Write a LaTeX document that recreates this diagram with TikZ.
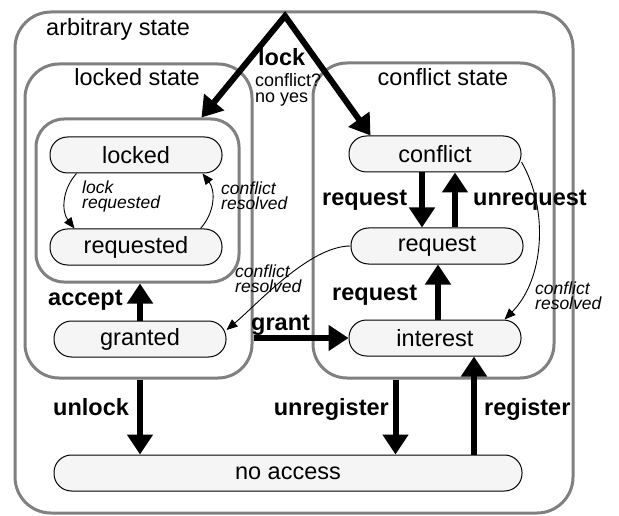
\documentclass[tikz,border=0pt]{standalone}
\usepackage{fontspec}
\setmainfont{Liberation Sans}
\usetikzlibrary{positioning, arrows.meta, calc}

\begin{document}
\begin{tikzpicture}[
  x=1pt, y=-1pt,
  >=Stealth,
  every node/.style={font=\fontsize{23.5}{26}\selectfont, inner sep=0pt},
  frame/.style={draw=gray, line width=3pt},
  statebox/.style={draw, fill=gray!8, line width=1pt, rounded corners=17.5pt, minimum width=172pt, minimum height=36pt},
  translabel/.style={font=\fontsize{23.5}{26}\selectfont\bfseries},
  condlabel/.style={font=\fontsize{17.5}{15}\selectfont\itshape, align=left},
  choicelabel/.style={font=\fontsize{18}{16}\selectfont, align=left},
  bigarrow/.style={line width=6pt, -{Triangle[length=20pt, width=25pt]}},
  smallarrow/.style={line width=0.9pt, -{Triangle[length=11pt, width=9pt]}}
]
\fill[white] (0,0) rectangle (619,516);
\useasboundingbox (0,0) rectangle (619,516);

% Frames
\node[frame, rounded corners=36pt, minimum width=558pt, minimum height=501pt] (arbitrary) at (294,262.5) {};
\node[frame, rounded corners=34pt, minimum width=227pt, minimum height=314pt] (lockedst) at (138.5,221) {};
\node[frame, rounded corners=28pt, minimum width=203pt, minimum height=163pt] (lockbox) at (137.5,200.5) {};
\node[frame, rounded corners=34pt, minimum width=241pt, minimum height=315pt] (conflictst) at (433.5,220.5) {};
\node[anchor=base west] (arbitrarylbl) at (46,36) {arbitrary state};
\node[anchor=base] (lockedlbl) at (137,86) {locked state};
\node[anchor=base] (conflictlbl) at (443,86) {conflict state};

% States
\node[statebox] (locked) at (136,155) {locked};
\node[statebox] (requested) at (136,247) {requested};
\node[statebox] (granted) at (140,339) {granted};
\node[statebox] (conflict) at (435,154) {conflict};
\node[statebox] (request) at (437,246) {request};
\node[statebox] (interest) at (435,338) {interest};
\node[statebox, minimum width=468pt] (noaccess) at (288,473) {no access};

% Lock split
\coordinate (top) at (285,16);
\draw[line width=6pt, line join=miter, {Triangle[length=20pt, width=25pt]}-{Triangle[length=20pt, width=25pt]}]
  ([xshift=-39pt]lockbox.north east) -- (top) -- ([xshift=22pt]conflict.north west);
\node[translabel, anchor=base west] (locklbl) at (258,66) {lock};
\node[choicelabel, anchor=base west] (choicelbl) at (255,103) {conflict?\\no yes};

% Thick transitions
\draw[bigarrow] ([xshift=-13pt]conflict.south) -- ([xshift=-13pt]conflict.south |- request.north);
\draw[bigarrow] ([xshift=20pt]conflict.south |- request.north) -- ([xshift=20pt]conflict.south);
\draw[bigarrow] ([xshift=3pt]interest.north) -- ([xshift=3pt]interest.north |- request.south);
\draw[bigarrow] (granted.north) -- (granted.north |- lockbox.south);
\draw[bigarrow] (lockedst.east |- interest.west) -- (interest.west);
\draw[bigarrow] (granted.south |- lockedst.south) -- (granted.south |- noaccess.north);
\draw[bigarrow] ([xshift=-38pt]conflictst.south) -- ([xshift=-38pt]conflictst.south |- noaccess.north);
\draw[bigarrow] ([xshift=39pt]interest.south |- noaccess.north) -- ([xshift=39pt]interest.south);

\node[translabel, anchor=base west] (reqlbl) at (322,205) {request};
\node[translabel, anchor=base west] (unreqlbl) at (473,205) {unrequest};
\node[translabel, anchor=base west] (reqlbl2) at (332,300) {request};
\node[translabel, anchor=base west] (acceptlbl) at (48,305) {accept};
\node[translabel, anchor=base west] (grantlbl) at (251,330) {grant};
\node[translabel, anchor=base west] (unlocklbl) at (53,415) {unlock};
\node[translabel, anchor=base east] (unreglbl) at (389,415) {unregister};
\node[translabel, anchor=base west] (reglbl) at (484,415) {register};

% Thin transitions
\draw[smallarrow] ([xshift=27pt]locked.south west) to[bend right=40] ([xshift=25pt]requested.north west);
\draw[smallarrow] ([xshift=-22pt]requested.north east) to[bend right=40] ([xshift=-20pt]locked.south east);
\draw[smallarrow] (request.west) to[out=180, in=40, looseness=0.7] ([yshift=9pt]granted.east);
\draw[smallarrow] ([yshift=-8pt]conflict.east) to[out=-60, in=45, looseness=0.9] ([xshift=-17pt]interest.north east);

\node[condlabel, anchor=base west] (lockreqlbl) at (82,209) {lock\\requested};
\node[condlabel, anchor=base west] (resolvedlbl) at (221,210) {conflict\\resolved};
\node[condlabel, anchor=base west] (resolvedlbl2) at (235,292) {conflict\\resolved};
\node[condlabel, anchor=base west] (resolvedlbl3) at (535,309) {conflict\\resolved};

\end{tikzpicture}
\end{document}
